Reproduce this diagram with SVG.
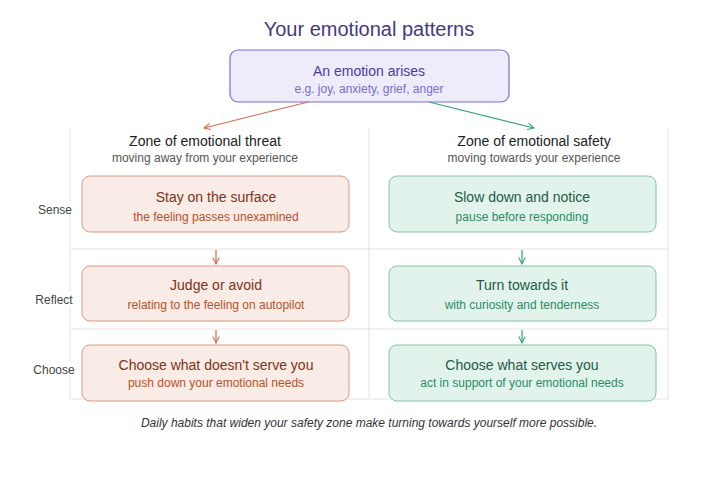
<svg xmlns="http://www.w3.org/2000/svg" width="722" height="482" viewBox="0 0 722 482">
<defs>
<marker id="ao" viewBox="0 0 10 10" refX="9" refY="5" markerWidth="8" markerHeight="8" orient="auto-start-reverse" markerUnits="userSpaceOnUse"><path d="M1,1 L9,5 L1,9" fill="none" stroke="#d4694a" stroke-width="1.3"/></marker>
<marker id="ag" viewBox="0 0 10 10" refX="9" refY="5" markerWidth="8" markerHeight="8" orient="auto-start-reverse" markerUnits="userSpaceOnUse"><path d="M1,1 L9,5 L1,9" fill="none" stroke="#35a27a" stroke-width="1.3"/></marker>
</defs>
<style>
text{font-family:"Liberation Sans",Arial,sans-serif;text-anchor:middle}
.grid{stroke:#e6e3de;stroke-width:1;fill:none}
.threat rect{fill:#f9ebe5;stroke:#d99a86;stroke-width:1}
.safe rect{fill:#e2f3ec;stroke:#82c4a8;stroke-width:1}
.threat .t{fill:#7d3320;font-size:14px}
.threat .s{fill:#b3522f;font-size:12px}
.safe .t{fill:#1c5c44;font-size:14px}
.safe .s{fill:#2e8a62;font-size:12px}
.hd{fill:#222;font-size:14px}
.hs{fill:#555;font-size:12px}
.row rect{fill:#fff}
.row text{fill:#444;font-size:12px}
.co{stroke:#d4694a;stroke-width:1.2;fill:none}
.cg{stroke:#35a27a;stroke-width:1.2;fill:none}
</style>
<rect width="722" height="482" fill="#fff"/>
<text x="369" y="36" style="font-size:20px;fill:#45387f">Your emotional patterns</text>
<g id="grid">
<path class="grid" d="M70,128 V399 M369,128 V399 M668,128 V399 M70,249 H668 M70,329 H668 M70,399 H668"/>
</g>
<g id="labels" class="row">
<rect x="36" y="201" width="38" height="16"/>
<text x="55" y="214">Sense</text>
<rect x="34" y="291" width="40" height="16"/>
<text x="54" y="304">Reflect</text>
<rect x="32" y="361" width="44" height="16"/>
<text x="54" y="374">Choose</text>
</g>
<g id="start">
<rect x="230" y="50" width="279" height="52" rx="8" fill="#eeebfb" stroke="#7b70d0" stroke-width="1.2"/>
<text x="369" y="76" style="font-size:14px;fill:#483e98">An emotion arises</text>
<text x="369" y="93" style="font-size:12px;fill:#7a6fc6">e.g. joy, anxiety, grief, anger</text>
</g>
<g id="header-threat">
<text class="hd" x="205" y="146">Zone of emotional threat</text>
<text class="hs" x="205" y="162">moving away from your experience</text>
</g>
<g id="header-safety">
<text class="hd" x="534" y="146">Zone of emotional safety</text>
<text class="hs" x="534" y="162">moving towards your experience</text>
</g>
<g id="threat-sense" class="threat">
<rect x="82" y="176" width="267" height="56" rx="8"/>
<text class="t" x="216" y="202">Stay on the surface</text>
<text class="s" x="216" y="221">the feeling passes unexamined</text>
</g>
<g id="threat-reflect" class="threat">
<rect x="82" y="266" width="267" height="55" rx="8"/>
<text class="t" x="216" y="290">Judge or avoid</text>
<text class="s" x="216" y="309">relating to the feeling on autopilot</text>
</g>
<g id="threat-choose" class="threat">
<rect x="82" y="345" width="267" height="56" rx="8"/>
<text class="t" x="216" y="370">Choose what doesn't serve you</text>
<text class="s" x="216" y="387">push down your emotional needs</text>
</g>
<g id="safe-sense" class="safe">
<rect x="389" y="176" width="267" height="56" rx="8"/>
<text class="t" x="522" y="202">Slow down and notice</text>
<text class="s" x="522" y="221">pause before responding</text>
</g>
<g id="safe-reflect" class="safe">
<rect x="389" y="266" width="267" height="55" rx="8"/>
<text class="t" x="522" y="290">Turn towards it</text>
<text class="s" x="522" y="309">with curiosity and tenderness</text>
</g>
<g id="safe-choose" class="safe">
<rect x="389" y="345" width="267" height="56" rx="8"/>
<text class="t" x="522" y="370">Choose what serves you</text>
<text class="s" x="522" y="387">act in support of your emotional needs</text>
</g>
<g id="connectors">
<line class="co" x1="308" y1="102" x2="204" y2="128" marker-end="url(#ao)"/>
<line class="cg" x1="429" y1="102" x2="534" y2="128" marker-end="url(#ag)"/>
<line class="co" x1="216" y1="250" x2="216" y2="264" marker-end="url(#ao)"/>
<line class="co" x1="216" y1="330" x2="216" y2="343" marker-end="url(#ao)"/>
<line class="cg" x1="522" y1="250" x2="522" y2="264" marker-end="url(#ag)"/>
<line class="cg" x1="522" y1="330" x2="522" y2="343" marker-end="url(#ag)"/>
</g>
<text x="369" y="427" style="font-size:12px;font-style:italic;fill:#333">Daily habits that widen your safety zone make turning towards yourself more possible.</text>
</svg>
